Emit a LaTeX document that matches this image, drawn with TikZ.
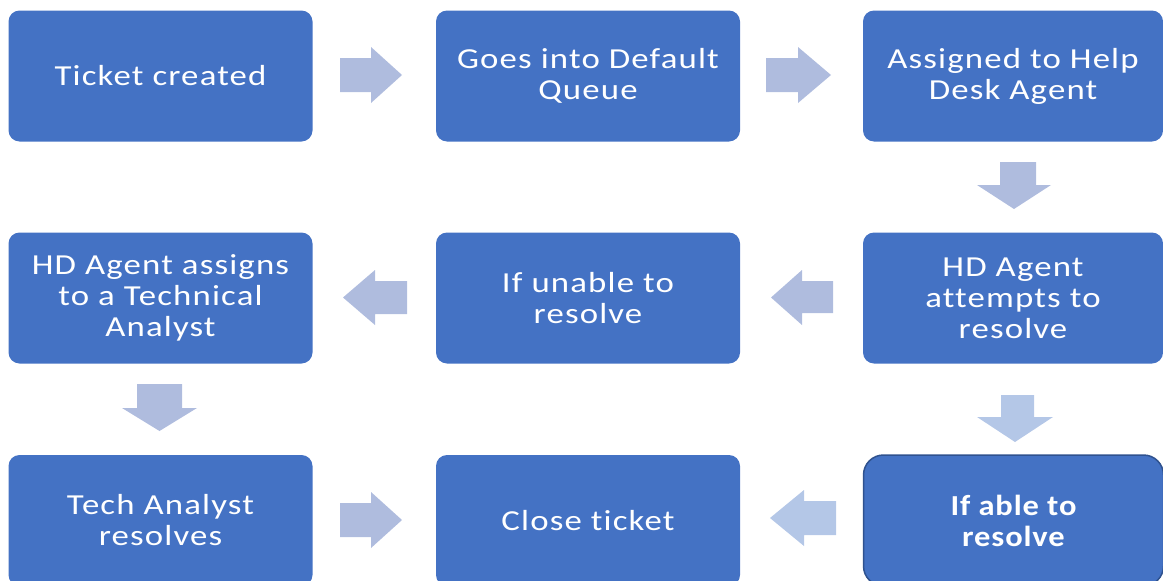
\documentclass[tikz,border=0pt]{standalone}
\usepackage{fontspec}
\setmainfont{Carlito}[FakeStretch=1.2,LetterSpace=4,Ligatures=NoCommon]
\newfontfamily\boldtext{Carlito}[FakeStretch=1.12,LetterSpace=3,Ligatures=NoCommon]
\definecolor{boxblue}{HTML}{4472C4}
\definecolor{arrA}{HTML}{AFBCDE}
\definecolor{arrB}{HTML}{B4C7E7}
\definecolor{edgeblue}{HTML}{2F528F}
\tikzset{
  stepbox/.style={fill=boxblue, draw=none, rounded corners=11pt, minimum width=304pt, minimum height=131pt, inner sep=0pt, text=white, align=center, font=\fontsize{29}{31}\selectfont},
  blockarr/.style={fill=arrA, draw=none},
  blockarrlight/.style={fill=arrB, draw=none}
}
\begin{document}
\begin{tikzpicture}[x=1pt,y=-1pt]
\useasboundingbox (0,0) rectangle (1163,581);
\clip (0,0) rectangle (1163,581);
% row 1
\node[stepbox] (n1) at (160.5,76) {Ticket created};
\node[stepbox] (n2) at (588,76) {Goes into Default\\Queue};
\node[stepbox, minimum width=300pt] (n3) at (1013,76) {Assigned to Help\\Desk Agent};
% row 2
\node[stepbox] (n4) at (160.5,298) {HD Agent assigns\\to a Technical\\Analyst};
\node[stepbox] (n5) at (588,298) {If unable to\\resolve};
\node[stepbox, minimum width=300pt] (n6) at (1013,298) {HD Agent\\attempts to\\resolve};
% row 3
\node[stepbox] (n7) at (160.5,520.5) {Tech Analyst\\resolves};
\node[stepbox] (n8) at (588,520.5) {Close ticket};
\node[stepbox, minimum width=300pt, rounded corners=20pt, draw=edgeblue, line width=1.5pt, font=\fontsize{29}{31}\boldtext\bfseries] (n9) at (1013.5,520.5) {If able to\\resolve};
% arrows row 1
\fill[blockarr] (340,58) -- (371,58) -- (371,47) -- (402,75) -- (371,103) -- (371,92) -- (340,92) -- cycle;
\fill[blockarr] (766,58) -- (798,58) -- (798,47) -- (831,75) -- (798,103) -- (798,92) -- (766,92) -- cycle;
% down n3 -> n6
\fill[blockarr] (1000,162) -- (1036,162) -- (1036,185) -- (1051,185) -- (1014,209) -- (977,185) -- (1000,185) -- cycle;
% row 2 left arrows
\fill[blockarr] (833,281) -- (802,281) -- (802,270) -- (771,297.5) -- (802,325) -- (802,313) -- (833,313) -- cycle;
\fill[blockarr] (407,281) -- (375,281) -- (375,270) -- (343,297.5) -- (375,325) -- (375,314) -- (407,314) -- cycle;
% down n4 -> n7
\fill[blockarr] (137,384) -- (182,384) -- (182,408) -- (197,408) -- (159.5,431) -- (122,408) -- (137,408) -- cycle;
% down n6 -> n9
\fill[blockarrlight] (1001,395) -- (1034,395) -- (1034,417) -- (1053,417) -- (1015,442) -- (977,417) -- (1001,417) -- cycle;
% row 3
\fill[blockarr] (340,503) -- (371,503) -- (371,492) -- (402,520) -- (371,548) -- (371,537) -- (340,537) -- cycle;
\fill[blockarrlight] (836,501) -- (804,501) -- (804,490) -- (770,518) -- (804,546) -- (804,535) -- (836,535) -- cycle;
\end{tikzpicture}
\end{document}
